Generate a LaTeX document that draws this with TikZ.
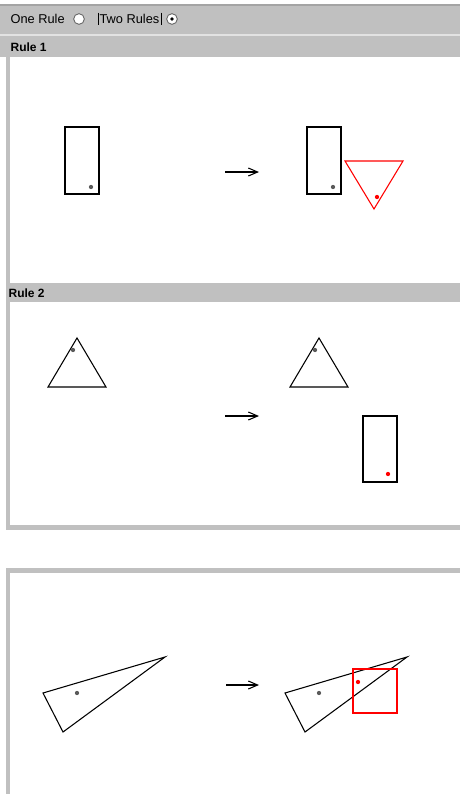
\documentclass[tikz,border=0pt]{standalone}
\usepackage{fontspec}
\setmainfont{Liberation Sans}
\usetikzlibrary{arrows.meta}
\definecolor{cPanel}{HTML}{C0C0C0}
\definecolor{cEdge}{HTML}{A4A4A4}
\definecolor{cLight}{HTML}{E2E2E2}
\definecolor{cDot}{HTML}{5A5A5A}
\definecolor{cNew}{HTML}{FF0000}
\tikzset{
    lbl/.style={font=\fontsize{9.6}{11}\selectfont, inner sep=1pt, anchor=west},
    hdr/.style={lbl, font=\fontsize{9}{10}\selectfont\bfseries},
    radio/.style={circle, draw=cDot, fill=white, line width=0.6pt,
                  minimum size=8pt, inner sep=0pt},
    shp/.style={draw=black, line width=0.8pt},
    newshp/.style={shp, draw=cNew},
    pin/.style={fill=cDot},
    newpin/.style={fill=cNew},
    rulearrow/.style={-{Straight Barb[length=7pt, width=6pt]}, line width=0.8pt},
}

\begin{document}
\begin{tikzpicture}[x=0.75pt, y=-0.75pt]
\useasboundingbox (0,0) rectangle (460,794);

% choice bar: one rule or two rules
\fill[cPanel] (0,4) rectangle (460,34);
\fill[cEdge] (0,4) rectangle (460,5.5);
\fill[cLight] (0,34) rectangle (460,36);
\node[lbl] (oneRule) at (9,19) {One Rule};
\node[radio] (radOne) at (79,19) {};
\node[lbl] (twoRules) at (98,19) {Two Rules};
\draw[line width=0.6pt] (twoRules.north west) -- (twoRules.south west);
\draw[line width=0.6pt] (twoRules.north east) -- (twoRules.south east);
\node[radio] (radTwo) at (172,19) {};
\fill (radTwo) circle (1.4pt);

% rule 1: rectangle -> rectangle + triangle
\fill[cPanel] (0,36) rectangle (460,57);
\node[hdr] (rule1) at (9,47) {Rule 1};
\fill[cPanel] (6,57) rectangle (10,283);
\foreach \dx in {0,242}{
  \draw[shp] ({65+\dx},127) rectangle ({99+\dx},194);
  \fill[pin] ({91+\dx},187) circle (1.6pt);
}
\coordinate (arrA1) at (225,172);
\coordinate (arrA2) at (259,172);
\draw[rulearrow] (arrA1) -- (arrA2);
\draw[newshp] (345,161) -- (403,161) -- (374,209) -- cycle;
\fill[newpin] (377,197) circle (1.6pt);

% rule 2: triangle -> triangle + rectangle
\fill[cPanel] (6,283) rectangle (460,302);
\node[hdr] (rule2) at (7,293) {Rule 2};
\fill[cPanel] (6,302) rectangle (10,530);
\fill[cPanel] (6,525) rectangle (460,530);
\foreach \dx in {0,242}{
  \draw[shp] ({77+\dx},338) -- ({106+\dx},387) -- ({48+\dx},387) -- cycle;
  \fill[pin] ({73+\dx},350) circle (1.6pt);
}
\coordinate (arrB1) at (225,416);
\coordinate (arrB2) at (259,416);
\draw[rulearrow] (arrB1) -- (arrB2);
\draw[shp] (363,416) rectangle (397,482);
\fill[newpin] (388,474) circle (1.6pt);

% result: triangle -> triangle + square
\fill[cPanel] (6,568) rectangle (460,573);
\fill[cPanel] (6,568) rectangle (10,794);
\foreach \dx in {0,242}{
  \draw[shp] ({43+\dx},693) -- ({63+\dx},732) -- ({165+\dx},657) -- cycle;
  \fill[pin] ({77+\dx},693) circle (1.6pt);
}
\coordinate (arrC1) at (226,685);
\coordinate (arrC2) at (259,685);
\draw[rulearrow] (arrC1) -- (arrC2);
\draw[newshp] (353,669) rectangle (397,713);
\fill[newpin] (358,682) circle (1.6pt);

\end{tikzpicture}
\end{document}
